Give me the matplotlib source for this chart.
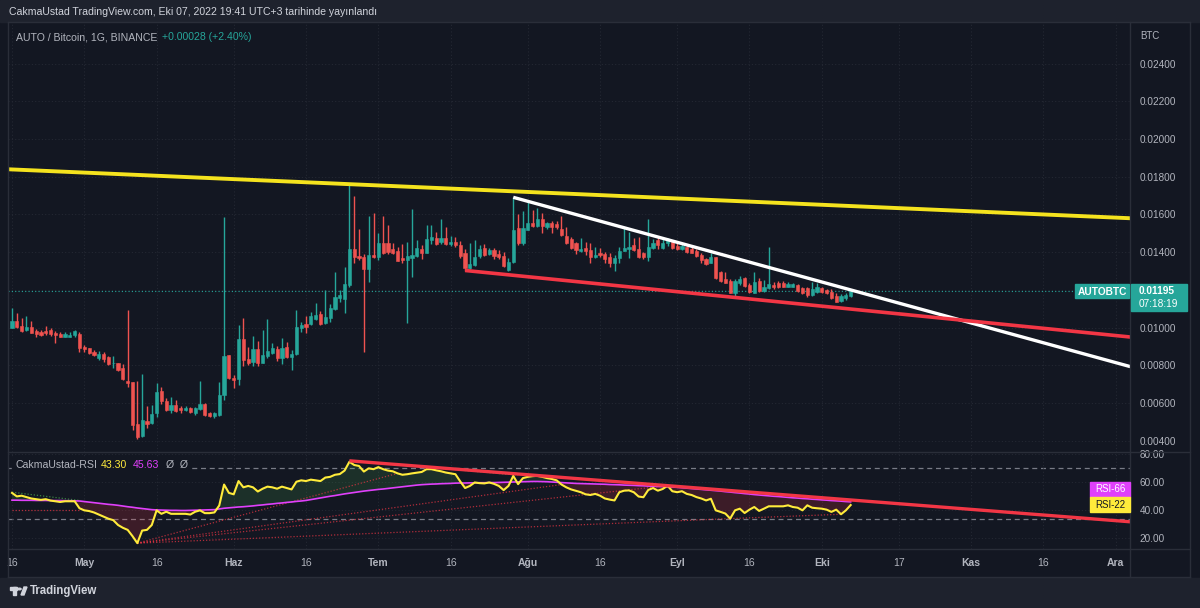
"""
AUTO/BTC daily chart with CakmaUstad-RSI pane, TradingView dark style.
Saves out.png
"""
import numpy as np
import pandas as pd
import matplotlib
matplotlib.use("Agg")
import matplotlib.pyplot as plt
import matplotlib.dates as mdates
from matplotlib.patches import Rectangle, Circle, Polygon
from matplotlib.lines import Line2D

plt.rcParams['font.family'] = ['Liberation Sans', 'DejaVu Sans']

# ── Daily candles, 2022-04-16 .. 2022-10-07 (BTC) ────────────────────────────
start_date = "2022-04-16"
opens = [
    0.00996, 0.01035, 0.01010, 0.00988, 0.01002, 0.00982, 0.00975, 0.00982, 0.00989, 0.00973,
    0.00966, 0.00952, 0.00952, 0.00959, 0.00964, 0.00899, 0.00890, 0.00869, 0.00837, 0.00860,
    0.00842, 0.00811, 0.00811, 0.00784, 0.00719, 0.00710, 0.00489, 0.00425, 0.00506, 0.00492,
    0.00545, 0.00664, 0.00613, 0.00563, 0.00590, 0.00572, 0.00563, 0.00572, 0.00545, 0.00567,
    0.00595, 0.00549, 0.00531, 0.00537, 0.00643, 0.00855, 0.00731, 0.00726, 0.00940, 0.00834,
    0.00819, 0.00887, 0.00814, 0.00851, 0.00867, 0.00885, 0.00841, 0.00899, 0.00846, 0.00858,
    0.01000, 0.01019, 0.01017, 0.01044, 0.01072, 0.01023, 0.01049, 0.01097, 0.01155, 0.01152,
    0.01226, 0.01417, 0.01380, 0.01373, 0.01309, 0.01385, 0.01373, 0.01451, 0.01447, 0.01417,
    0.01408, 0.01367, 0.01359, 0.01367, 0.01380, 0.01415, 0.01398, 0.01465, 0.01474, 0.01456,
    0.01474, 0.01444, 0.01456, 0.01438, 0.01398, 0.01314, 0.01332, 0.01380, 0.01421, 0.01390,
    0.01412, 0.01390, 0.01380, 0.01306, 0.01350, 0.01527, 0.01447, 0.01518, 0.01557, 0.01539,
    0.01574, 0.01532, 0.01553, 0.01550, 0.01521, 0.01486, 0.01468, 0.01447, 0.01406, 0.01421,
    0.01412, 0.01373, 0.01398, 0.01391, 0.01376, 0.01341, 0.01368, 0.01408, 0.01415, 0.01438,
    0.01415, 0.01394, 0.01373, 0.01421, 0.01465, 0.01421, 0.01447, 0.01456, 0.01433, 0.01415,
    0.01429, 0.01415, 0.01408, 0.01385, 0.01362, 0.01345, 0.01373, 0.01297, 0.01256, 0.01249,
    0.01186, 0.01235, 0.01262, 0.01226, 0.01186, 0.01249, 0.01196, 0.01209, 0.01226, 0.01239,
    0.01235, 0.01217, 0.01217, 0.01226, 0.01209, 0.01209, 0.01173, 0.01191, 0.01209, 0.01200,
    0.01191, 0.01168, 0.01143, 0.01156, 0.01168,
]
highs = [
    0.01102, 0.01076, 0.01053, 0.01063, 0.01035, 0.00991, 0.00987, 0.01009, 0.00998, 0.00984,
    0.00978, 0.00978, 0.00978, 0.00987, 0.00978, 0.00908, 0.00894, 0.00881, 0.00878, 0.00873,
    0.00850, 0.00850, 0.00814, 0.00807, 0.01094, 0.00713, 0.00719, 0.00752, 0.00584, 0.00590,
    0.00708, 0.00687, 0.00625, 0.00630, 0.00616, 0.00584, 0.00584, 0.00579, 0.00579, 0.00717,
    0.00598, 0.00554, 0.00554, 0.00713, 0.01585, 0.00855, 0.00749, 0.01014, 0.01049, 0.00899,
    0.00956, 0.00931, 0.00987, 0.01044, 0.00917, 0.00904, 0.00943, 0.00922, 0.00881, 0.01093,
    0.01032, 0.01062, 0.01085, 0.01129, 0.01090, 0.01199, 0.01125, 0.01297, 0.01200, 0.01320,
    0.01762, 0.01698, 0.01521, 0.01390, 0.01592, 0.01610, 0.01504, 0.01592, 0.01544, 0.01451,
    0.01429, 0.01443, 0.01452, 0.01627, 0.01465, 0.01438, 0.01544, 0.01544, 0.01509, 0.01576,
    0.01532, 0.01486, 0.01482, 0.01461, 0.01415, 0.01451, 0.01465, 0.01438, 0.01444, 0.01421,
    0.01421, 0.01412, 0.01403, 0.01368, 0.01691, 0.01603, 0.01620, 0.01673, 0.01624, 0.01633,
    0.01606, 0.01562, 0.01567, 0.01567, 0.01592, 0.01536, 0.01482, 0.01456, 0.01474, 0.01456,
    0.01451, 0.01426, 0.01421, 0.01403, 0.01394, 0.01385, 0.01429, 0.01532, 0.01509, 0.01474,
    0.01482, 0.01403, 0.01574, 0.01468, 0.01482, 0.01468, 0.01474, 0.01465, 0.01447, 0.01447,
    0.01433, 0.01426, 0.01415, 0.01394, 0.01368, 0.01394, 0.01376, 0.01302, 0.01297, 0.01256,
    0.01256, 0.01274, 0.01270, 0.01239, 0.01297, 0.01262, 0.01253, 0.01426, 0.01244, 0.01249,
    0.01249, 0.01244, 0.01239, 0.01231, 0.01217, 0.01214, 0.01244, 0.01239, 0.01214, 0.01203,
    0.01203, 0.01182, 0.01178, 0.01182, 0.01200,
]
lows = [
    0.00996, 0.01000, 0.00977, 0.00984, 0.00970, 0.00948, 0.00957, 0.00963, 0.00957, 0.00917,
    0.00948, 0.00948, 0.00948, 0.00948, 0.00869, 0.00873, 0.00860, 0.00850, 0.00828, 0.00820,
    0.00804, 0.00784, 0.00770, 0.00722, 0.00687, 0.00457, 0.00408, 0.00418, 0.00466, 0.00489,
    0.00528, 0.00595, 0.00560, 0.00545, 0.00554, 0.00549, 0.00558, 0.00545, 0.00537, 0.00563,
    0.00531, 0.00524, 0.00522, 0.00531, 0.00616, 0.00725, 0.00678, 0.00696, 0.00796, 0.00802,
    0.00796, 0.00796, 0.00811, 0.00841, 0.00860, 0.00823, 0.00805, 0.00840, 0.00775, 0.00855,
    0.00979, 0.00973, 0.01014, 0.01040, 0.01014, 0.01019, 0.01032, 0.01093, 0.01138, 0.01079,
    0.01215, 0.01341, 0.01359, 0.00869, 0.01244, 0.01368, 0.01359, 0.01390, 0.01390, 0.01390,
    0.01353, 0.01341, 0.01023, 0.01267, 0.01375, 0.01364, 0.01393, 0.01444, 0.01440, 0.01442,
    0.01438, 0.01435, 0.01430, 0.01367, 0.01302, 0.01310, 0.01328, 0.01371, 0.01380, 0.01385,
    0.01362, 0.01362, 0.01323, 0.01302, 0.01345, 0.01438, 0.01438, 0.01515, 0.01536, 0.01536,
    0.01504, 0.01521, 0.01504, 0.01521, 0.01486, 0.01444, 0.01415, 0.01391, 0.01403, 0.01385,
    0.01345, 0.01368, 0.01376, 0.01345, 0.01323, 0.01300, 0.01345, 0.01406, 0.01368, 0.01408,
    0.01368, 0.01365, 0.01355, 0.01415, 0.01415, 0.01415, 0.01433, 0.01415, 0.01412, 0.01410,
    0.01398, 0.01394, 0.01376, 0.01345, 0.01332, 0.01341, 0.01256, 0.01244, 0.01235, 0.01182,
    0.01161, 0.01226, 0.01217, 0.01186, 0.01182, 0.01191, 0.01191, 0.01203, 0.01203, 0.01212,
    0.01214, 0.01214, 0.01214, 0.01191, 0.01178, 0.01161, 0.01168, 0.01182, 0.01186, 0.01178,
    0.01150, 0.01135, 0.01138, 0.01147, 0.01164,
]
closes = [
    0.01035, 0.01002, 0.00980, 0.01005, 0.00973, 0.00966, 0.00963, 0.00970, 0.00964, 0.00961,
    0.00952, 0.00964, 0.00961, 0.00984, 0.00890, 0.00885, 0.00867, 0.00857, 0.00860, 0.00835,
    0.00807, 0.00814, 0.00775, 0.00726, 0.00704, 0.00483, 0.00422, 0.00510, 0.00489, 0.00540,
    0.00657, 0.00613, 0.00563, 0.00590, 0.00560, 0.00563, 0.00576, 0.00551, 0.00575, 0.00595,
    0.00537, 0.00531, 0.00549, 0.00643, 0.00850, 0.00731, 0.00722, 0.00940, 0.00828, 0.00811,
    0.00887, 0.00811, 0.00855, 0.00876, 0.00890, 0.00841, 0.00894, 0.00846, 0.00860, 0.01002,
    0.01014, 0.01005, 0.01062, 0.01067, 0.01019, 0.01055, 0.01106, 0.01164, 0.01173, 0.01231,
    0.01417, 0.01373, 0.01367, 0.01309, 0.01385, 0.01373, 0.01451, 0.01394, 0.01403, 0.01394,
    0.01355, 0.01359, 0.01382, 0.01385, 0.01421, 0.01394, 0.01470, 0.01482, 0.01444, 0.01474,
    0.01444, 0.01456, 0.01438, 0.01380, 0.01314, 0.01336, 0.01376, 0.01415, 0.01385, 0.01412,
    0.01380, 0.01373, 0.01327, 0.01350, 0.01518, 0.01447, 0.01527, 0.01557, 0.01539, 0.01574,
    0.01539, 0.01553, 0.01532, 0.01532, 0.01490, 0.01451, 0.01421, 0.01412, 0.01415, 0.01408,
    0.01376, 0.01385, 0.01385, 0.01362, 0.01341, 0.01368, 0.01408, 0.01421, 0.01426, 0.01412,
    0.01373, 0.01373, 0.01426, 0.01451, 0.01438, 0.01447, 0.01465, 0.01421, 0.01415, 0.01433,
    0.01403, 0.01398, 0.01380, 0.01359, 0.01338, 0.01373, 0.01262, 0.01249, 0.01239, 0.01186,
    0.01249, 0.01256, 0.01221, 0.01191, 0.01244, 0.01196, 0.01214, 0.01231, 0.01214, 0.01217,
    0.01217, 0.01231, 0.01231, 0.01196, 0.01182, 0.01173, 0.01203, 0.01214, 0.01191, 0.01186,
    0.01156, 0.01138, 0.01168, 0.01173, 0.01195,
]

# ── RSI pane values (yellow = RSI-22, magenta = RSI-66) ──────────────────────
rsi_fast = [
    52.0, 49.5, 50.0, 49.0, 48.0, 47.5, 47.0, 47.5, 46.5, 46.0,
    45.5, 46.0, 46.0, 46.0, 41.0, 39.5, 39.0, 38.0, 36.5, 35.0,
    33.5, 32.5, 29.0, 27.0, 25.5, 21.0, 16.0, 25.0, 25.5, 29.0,
    39.5, 37.0, 38.5, 37.0, 37.0, 37.0, 37.0, 36.5, 38.5, 39.5,
    37.5, 37.5, 38.0, 43.0, 58.0, 52.0, 51.0, 60.5, 56.0, 57.0,
    56.0, 53.0, 55.0, 56.5, 56.0, 55.0, 56.5, 55.5, 54.5, 60.0,
    61.0, 60.5, 61.5, 61.0, 60.5, 63.0, 63.5, 65.0, 65.5, 68.0,
    74.3, 72.0, 71.3, 67.3, 69.6, 69.0, 70.5, 69.0, 68.0, 67.5,
    66.0, 65.0, 65.4, 66.0, 66.5, 67.0, 69.0, 69.0, 68.2, 67.5,
    66.6, 66.0, 65.4, 60.2, 55.5, 57.0, 59.5, 59.0, 58.8, 59.5,
    58.5, 57.0, 54.0, 57.0, 64.2, 58.3, 62.6, 63.5, 64.0, 64.2,
    63.5, 62.6, 62.0, 61.0, 58.0, 56.0, 54.5, 53.5, 52.5, 51.0,
    50.5, 51.3, 50.0, 48.0, 47.2, 46.6, 52.5, 53.6, 53.8, 52.5,
    49.4, 48.9, 54.1, 55.5, 53.6, 54.8, 57.2, 53.2, 52.5, 53.2,
    51.3, 50.5, 49.0, 48.0, 46.6, 47.8, 39.5, 38.4, 37.2, 33.6,
    39.5, 40.7, 37.6, 40.0, 41.9, 39.1, 40.7, 42.4, 42.4, 42.4,
    42.4, 43.1, 41.9, 41.4, 39.5, 43.1, 41.4, 41.0, 40.7, 40.0,
    38.4, 40.0, 36.7, 39.5, 43.3,
]
rsi_slow = [
    46.8, 46.8, 46.7, 46.7, 46.7, 46.6, 46.6, 46.6, 46.5, 46.5,
    46.5, 46.4, 46.4, 46.3, 46.2, 45.8, 45.4, 45.0, 44.6, 44.2,
    43.8, 43.5, 43.1, 42.6, 42.1, 41.7, 41.2, 40.8, 40.4, 40.0,
    39.8, 39.7, 39.6, 39.5, 39.5, 39.4, 39.4, 39.5, 39.6, 39.7,
    39.8, 39.9, 40.0, 40.5, 41.0, 41.3, 41.6, 41.9, 42.1, 42.4,
    42.7, 43.1, 43.4, 43.8, 44.1, 44.5, 44.8, 45.2, 45.5, 45.9,
    46.2, 46.6, 47.2, 47.8, 48.4, 49.0, 49.6, 50.1, 50.7, 51.3,
    51.8, 52.3, 52.8, 53.3, 53.7, 54.1, 54.5, 54.8, 55.2, 55.6,
    56.0, 56.4, 56.8, 57.2, 57.6, 57.9, 58.1, 58.3, 58.4, 58.6,
    58.7, 58.8, 59.0, 59.1, 59.1, 59.2, 59.2, 59.3, 59.3, 59.4,
    59.4, 59.5, 59.6, 59.7, 59.8, 59.9, 60.0, 60.1, 60.2, 60.2,
    60.1, 60.0, 59.8, 59.6, 59.4, 59.2, 59.0, 58.8, 58.7, 58.6,
    58.5, 58.4, 58.3, 58.2, 58.0, 57.9, 57.8, 57.6, 57.5, 57.4,
    57.2, 57.1, 56.9, 56.8, 56.6, 56.5, 56.3, 56.2, 56.0, 55.7,
    55.4, 55.1, 54.8, 54.5, 54.2, 53.9, 53.6, 53.3, 52.9, 52.6,
    52.2, 51.9, 51.5, 51.2, 50.8, 50.5, 50.2, 49.9, 49.6, 49.4,
    49.1, 48.8, 48.5, 48.3, 48.0, 47.8, 47.5, 47.3, 47.0, 46.8,
    46.5, 46.3, 46.1, 45.8, 45.6,
]
assert len(opens) == len(highs) == len(lows) == len(closes) == len(rsi_fast) == len(rsi_slow)

# ── Drawings: (date0, value0, date1, value1) ─────────────────────────────────
yellow_line = ("2022-04-15", 0.01840, "2022-12-04", 0.01580)
white_line  = ("2022-07-29", 0.01691, "2022-12-04", 0.00793)
red_line    = ("2022-07-19", 0.01303, "2022-12-04", 0.00950)
rsi_trend   = ("2022-06-25", 75.0, "2022-12-04", 31.3)
rsi_fan = [
    ("2022-05-12", 16.0, "2022-07-05", 66.0),
    ("2022-05-12", 16.0, "2022-08-08", 58.0),
    ("2022-05-12", 16.0, "2022-08-30", 57.2),
    ("2022-05-12", 16.0, "2022-09-12", 33.6),
    ("2022-09-12", 33.6, "2022-10-05", 36.7),
    ("2022-04-16", 39.5, "2022-04-30", 39.5),
]
rsi_green_dots = [
    ("2022-04-16", 52.5, "2022-04-30", 46.6),
    ("2022-06-25", 75.3, "2022-07-30", 64.7),
]

last_price = 0.01195
price_ticks = [0.004, 0.006, 0.008, 0.010, 0.012, 0.014, 0.016, 0.018, 0.020, 0.022, 0.024]
rsi_ticks = [20, 40, 60, 80]
rsi_levels = [70, 33]
time_ticks = ["2022-04-16", "2022-05-01", "2022-05-16", "2022-06-01", "2022-06-16",
              "2022-07-01", "2022-07-16", "2022-08-01", "2022-08-16", "2022-09-01",
              "2022-09-16", "2022-10-01", "2022-10-17", "2022-11-01", "2022-11-16",
              "2022-12-01"]
time_labels = ["16", "May", "16", "Haz", "16", "Tem", "16", "Ağu", "16", "Eyl",
               "16", "Eki", "17", "Kas", "16", "Ara"]
month_labels = {"May", "Haz", "Tem", "Ağu", "Eyl", "Eki", "Kas", "Ara"}

# ── Style ─────────────────────────────────────────────────────────────────────
BG      = "#131722"
BAR     = "#1e222d"
BORDER  = "#2a2e39"
GRID    = "#242833"
TXT     = "#b2b5be"
UP      = "#26a69a"
DOWN    = "#ef5350"
YEL     = "#ffeb3b"
MAG     = "#e040fb"
RED     = "#f23645"

W, H = 1200, 608
def fx(px): return px / W
def fy(py): return 1 - py / H

fig = plt.figure(figsize=(12, 6.08), dpi=100)
fig.patch.set_facecolor(BG)

dates = mdates.date2num(pd.date_range(start_date, periods=len(closes), freq="D"))
o, h, l, c = map(np.array, (opens, highs, lows, closes))
d0 = mdates.date2num(pd.Timestamp(start_date))
xlim = (d0 - 0.83, d0 + 231.95)
tick_x = mdates.date2num(pd.to_datetime(time_ticks))

def seg(ax, s, **kw):
    x0, y0, x1, y1 = s
    ax.plot(mdates.date2num(pd.to_datetime([x0, x1])), [y0, y1], **kw)

# ── Main pane ─────────────────────────────────────────────────────────────────
ax = fig.add_axes([fx(8), fy(452), fx(1122), 430 / H])
ax.set_facecolor(BG)
ax.set_xlim(*xlim)
ax.set_ylim(0.00340, 0.02621)
ax.set_xticks(tick_x)
ax.set_yticks(price_ticks)
ax.set_yticklabels([f"{v:.5f}" for v in price_ticks])
ax.yaxis.tick_right()
ax.tick_params(axis="y", length=0, pad=7, labelcolor=TXT, labelsize=7.2)
ax.tick_params(axis="x", length=0, labelbottom=False)
ax.grid(True, color=GRID, linestyle=(0, (1, 2)), linewidth=0.8)
for sp in ax.spines.values():
    sp.set_visible(False)

col = np.where(c >= o, UP, DOWN)
ax.vlines(dates, l, h, colors=col, linewidth=1.0, zorder=3)
ax.bar(dates, np.abs(c - o), bottom=np.minimum(o, c), width=0.66,
       color=col, edgecolor=col, linewidth=0.4, zorder=4)

ax.axhline(last_price, color=UP, linestyle=(0, (1, 2)), linewidth=0.8, zorder=2)
seg(ax, yellow_line, color="#f5e31e", linewidth=2.8, zorder=5, solid_capstyle="butt")
seg(ax, white_line, color="white", linewidth=2.4, zorder=5, solid_capstyle="butt")
seg(ax, red_line, color=RED, linewidth=2.6, zorder=5, solid_capstyle="butt")

# ── RSI pane ──────────────────────────────────────────────────────────────────
rx = fig.add_axes([fx(8), fy(549), fx(1122), 96 / H])
rx.set_facecolor(BG)
rx.set_xlim(*xlim)
rx.set_ylim(11.8, 80.6)
rx.set_yticks(rsi_ticks)
rx.set_yticklabels([f"{v:.2f}" for v in rsi_ticks])
rx.yaxis.tick_right()
rx.tick_params(axis="y", length=0, pad=7, labelcolor=TXT, labelsize=7.2)
rx.set_xticks(tick_x)
rx.set_xticklabels(time_labels)
rx.tick_params(axis="x", length=0, pad=6.5, labelcolor=TXT, labelsize=7.5)
for lab in rx.get_xticklabels():
    if lab.get_text() in month_labels:
        lab.set_fontweight("bold")
rx.grid(True, color=GRID, linestyle=(0, (1, 2)), linewidth=0.8)
for sp in rx.spines.values():
    sp.set_visible(False)

for lv in rsi_levels:
    rx.axhline(lv, color="#787b86", linestyle=(0, (4, 3)), linewidth=0.9, zorder=1)

rf, rs = np.array(rsi_fast), np.array(rsi_slow)
rx.fill_between(dates, rf, rs, where=rf >= rs, interpolate=True,
                color="#4caf50", alpha=0.17, linewidth=0, zorder=2)
rx.fill_between(dates, rf, rs, where=rf < rs, interpolate=True,
                color="#f23645", alpha=0.19, linewidth=0, zorder=2)
for s in rsi_fan:
    seg(rx, s, color=RED, alpha=0.7, linestyle=(0, (1, 1.5)), linewidth=0.9, zorder=3)
for s in rsi_green_dots:
    seg(rx, s, color="#4caf50", alpha=0.7, linestyle=(0, (1, 1.5)), linewidth=0.9, zorder=3)
rx.plot(dates, rs, color=MAG, linewidth=1.2, zorder=4)
rx.plot(dates, rf, color=YEL, linewidth=1.5, zorder=5)
seg(rx, rsi_trend, color=RED, linewidth=2.4, zorder=6, solid_capstyle="butt")

# ── Frame, bars, labels ───────────────────────────────────────────────────────
def frect(x, y, w, hgt, **kw):
    r = Rectangle((fx(x), fy(y + hgt)), w / W, hgt / H, transform=fig.transFigure, **kw)
    fig.patches.append(r)
    return r

frect(0, 0, 1200, 22, color=BAR, zorder=-1)
frect(0, 578, 1200, 30, color=BAR, zorder=-1)

def fline(x0, y0, x1, y1, **kw):
    fig.lines.append(Line2D([fx(x0), fx(x1)], [fy(y0), fy(y1)],
                            transform=fig.transFigure, color=BORDER, linewidth=1, **kw))

fline(8, 22, 1190, 22)
fline(8, 577, 1190, 577)
fline(8, 22, 8, 577)
fline(1190, 22, 1190, 577)
fline(1130, 22, 1130, 577)
fline(8, 452, 1190, 452)
fline(8, 549, 1190, 549)

fig.text(fx(9), fy(12), "CakmaUstad TradingView.com, Eki 07, 2022 19:41 UTC+3 tarihinde yayınlandı",
         color="#d1d4dc", fontsize=7.6, va="center", ha="left")
fig.text(fx(16), fy(37), "AUTO / Bitcoin, 1G, BINANCE", color=TXT, fontsize=7.6, va="center")
fig.text(fx(162), fy(37), "+0.00028 (+2.40%)", color=UP, fontsize=7.6, va="center")
fig.text(fx(1140), fy(36), "BTC", color=TXT, fontsize=7, va="center")

# RSI legend sits on a plain background so the level line stops behind it
frect(12, 458, 178, 14, color=BG, zorder=3)
fig.text(fx(16), fy(465), "CakmaUstad-RSI", color=TXT, fontsize=7.6, va="center", zorder=4)
fig.text(fx(101), fy(465), "43.30", color=YEL, fontsize=7.6, va="center", zorder=4)
fig.text(fx(133), fy(465), "45.63", color=MAG, fontsize=7.6, va="center", zorder=4)
fig.text(fx(166), fy(465), "Ø  Ø", color=TXT, fontsize=7.6, va="center", zorder=4)

# last price / symbol labels
frect(1075, 284, 54, 14, color=UP, zorder=5)
fig.text(fx(1102), fy(291.5), "AUTOBTC", color="white", fontsize=7.3,
         fontweight="bold", ha="center", va="center", zorder=6)
frect(1131, 284, 56, 27, color=UP, zorder=5)
fig.text(fx(1139), fy(291), "0.01195", color="white", fontsize=7.3,
         fontweight="bold", ha="left", va="center", zorder=6)
fig.text(fx(1139), fy(304), "07:18:19", color="white", fontsize=7.3,
         ha="left", va="center", zorder=6)

frect(1090, 482, 40, 15, color=MAG, zorder=5)
fig.text(fx(1110), fy(489.5), "RSI-66", color="white", fontsize=7,
         ha="center", va="center", zorder=6)
frect(1090, 497, 40, 15, color=YEL, zorder=5)
fig.text(fx(1110), fy(504.5), "RSI-22", color="#131722", fontsize=7,
         ha="center", va="center", zorder=6)

# TradingView logo
frect(10, 587, 7, 3, color="#d1d4dc", zorder=2)
frect(13, 587, 3, 8, color="#d1d4dc", zorder=2)
fig.patches.append(Circle((fx(19.5), fy(589)), 1.6 / W, transform=fig.transFigure,
                          color="#d1d4dc", zorder=2))
fig.patches.append(Polygon([(fx(21), fy(595)), (fx(24), fy(587)), (fx(27), fy(587)), (fx(24), fy(595))],
                           closed=True, transform=fig.transFigure, color="#d1d4dc", zorder=2))
fig.text(fx(30), fy(591), "TradingView", color="#d1d4dc", fontsize=8.3,
         fontweight="bold", va="center")

fig.savefig("out.png", dpi=100, facecolor=fig.get_facecolor())
